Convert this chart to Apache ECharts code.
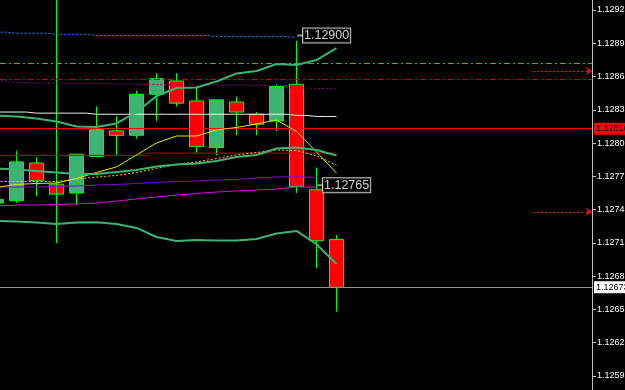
<!DOCTYPE html>
<html><head><meta charset="utf-8">
<script src="https://cdn.jsdelivr.net/npm/echarts@6/dist/echarts.min.js"></script>
<style>html,body{margin:0;padding:0;background:#000;}#c{width:625px;height:390px;}</style>
</head><body><div id="c"></div>
<script>
// ---- data (prices) ----
const candleIndex = [0,1,2,3,4,5,6,7,8,9,10,11,12,13,14,15,16,17];
const candleOpen  = [1.12749,1.12751,1.12785,1.12766,1.12758,1.12791,1.12814,1.12810,1.12847,1.12859,1.12841,1.12799,1.12840,1.12829,1.12823,1.12856,1.12761,1.12716];
const candleClose = [1.12752,1.12786,1.12769,1.12757,1.12793,1.12815,1.12810,1.12847,1.12861,1.12839,1.12800,1.12842,1.12831,1.12820,1.12854,1.12764,1.12715,1.12673];
const candleLow   = [1.12748,1.12749,1.12755,1.12756,1.12747,1.12790,1.12792,1.12807,1.12823,1.12836,1.12794,1.12792,1.12810,1.12810,1.12814,1.12758,1.12690,1.12651];
const candleHigh  = [1.12754,1.12796,1.12790,1.12767,1.12793,1.12836,1.12827,1.12850,1.12866,1.12866,1.12853,1.12842,1.12845,1.12831,1.12856,1.12895,1.12781,1.12720];

const bandUpper  = [1.128279,1.128270,1.128252,1.128225,1.128180,1.128175,1.128207,1.128310,1.128455,1.128527,1.128531,1.128585,1.128658,1.128680,1.128743,1.128734,1.128779,1.128887];
const bandMiddle = [1.127801,1.127792,1.127778,1.127765,1.127751,1.127751,1.127769,1.127787,1.127819,1.127837,1.127846,1.127869,1.127905,1.127923,1.127981,1.127990,1.127968,1.127918];
const bandLower  = [1.127328,1.127323,1.127314,1.127301,1.127314,1.127316,1.127301,1.127265,1.127183,1.127147,1.127156,1.127152,1.127152,1.127165,1.127215,1.127238,1.127118,1.126940];
const maYellow   = [1.127630,1.127657,1.127666,1.127670,1.127711,1.127765,1.127815,1.127923,1.128031,1.128094,1.128094,1.128148,1.128171,1.128202,1.128238,1.128135,1.127950,1.127760];
const maYellowDot= [1.127684,1.127684,1.127684,1.127684,1.127706,1.127724,1.127738,1.127765,1.127801,1.127837,1.127860,1.127891,1.127923,1.127945,1.127968,1.127963,1.127914,1.127832];
const maWhite    = [1.12831,1.12831,1.12830,1.12830,1.12830,1.12829,1.12829,1.12829,1.12829,1.12829,1.12829,1.12829,1.12829,1.12829,1.12829,1.12828,1.12827,1.12827];
const maDarkRed  = [1.12792,1.12792,1.12792,1.12792,1.12792,1.12792,1.12792,1.12792,1.12794,1.12794,1.12794,1.12794,1.12794,1.12794,1.12794,1.12794,1.12794,1.12794];
const maPurple   = [1.127634,1.127634,1.127634,1.127639,1.127643,1.127652,1.127657,1.127666,1.127675,1.127684,1.127688,1.127697,1.127702,1.127715,1.127724,1.127729,1.127720];
const maMagenta  = [1.127463,1.127472,1.127472,1.127476,1.127481,1.127490,1.127508,1.127526,1.127544,1.127562,1.127576,1.127589,1.127598,1.127607,1.127616,1.127634,1.127634];
const dotPurpleTop = [1.128590,1.128576,1.128572,1.128569,1.128569,1.128567,1.128563,1.128560,1.128558,1.128554,1.128551,1.128551,1.128551,1.128551,1.128549,1.128527,1.128522,1.128518];
const dotBlueTop = [1.12903,1.12902,1.12902,1.12901,1.12901,1.12900,1.12900,1.12900,1.12900,1.12900,1.12900,1.12899,1.12899,1.12899,1.12899,1.12898];

const levelGreenDashDot = 1.12875;
const levelRedDashDot   = 1.12861;
const levelBid          = 1.12816;
const levelCurrent      = 1.12673;
const arrowLevels       = [1.12868, 1.12741];
const arrowStartIndex   = 26.825;
const arrowEndIndex     = 29.775;
const verticalLineIndex = 3;
const verticalLineLow   = 1.12713;
const priceLabelIndex   = [15.175, 16.175];
const priceLabelValue   = [1.12900, 1.12765];
const priceLabelText    = ['1.12900', '1.12765'];
const tickLabels = ['1.12563','1.12593','1.12623','1.12653','1.12683','1.12713','1.12743','1.12773','1.12803','1.12833','1.12863','1.12893','1.12923','1.12953'];

// axis units: points above 1.12563
const axisBase = 1.12563;
const P = p => (p - axisBase) * 1e5;

const chart = echarts.init(document.getElementById('c'), null, {renderer: 'canvas'});

function lineS(vals, color, width, type, step, z) {
  return {type: 'line', data: vals.map((v, k) => [k, P(v)]), symbol: 'none', showSymbol: false,
    step: step || false, silent: true, animation: false, z: z || 5,
    lineStyle: {color: color, width: width, type: type || 'solid'}};
}
const dashDot = [6, 3, 2, 3];

const option = {
  backgroundColor: '#000000',
  animation: false,
  grid: {left: 0, right: 33, top: -23.2727, bottom: -19.2727, containLabel: false, outerBoundsMode: 'none'},
  xAxis: {type: 'value', min: 0.175, max: 29.775, show: false, splitLine: {show: false}},
  yAxis: {
    type: 'value', position: 'right', min: 0, max: 390, interval: 30, scale: false,
    axisLine: {show: true, lineStyle: {color: '#c0c0c0', width: 1}},
    axisTick: {show: true, length: 4, lineStyle: {color: '#c0c0c0'}},
    splitLine: {show: false},
    axisLabel: {color: '#ffffff', fontSize: 9, fontFamily: 'Liberation Sans', margin: 5,
      formatter: v => tickLabels[Math.round(v / 30)] || ''}
  },
  series: [
    // horizontal level lines
    {type: 'line', data: [], silent: true, z: 1,
      markLine: {silent: true, symbol: 'none', animation: false,
        data: [
          {yAxis: P(levelGreenDashDot), lineStyle: {color: '#3cb44b', width: 1, type: dashDot}, label: {show: false}},
          {yAxis: P(levelRedDashDot), lineStyle: {color: '#c80000', width: 1, type: dashDot}, label: {show: false}},
          {yAxis: P(levelBid), lineStyle: {color: '#ff0000', width: 1, type: 'solid'},
            label: {show: true, position: 'end', distance: 2, formatter: levelBid.toFixed(5), color: '#000',
              backgroundColor: '#ff0000', fontSize: 9, fontFamily: 'Liberation Sans', padding: [2, 4, 1, 2]}},
          {yAxis: P(levelCurrent), lineStyle: {color: '#909090', width: 1, type: 'solid'},
            label: {show: true, position: 'end', distance: 2, formatter: levelCurrent.toFixed(5), color: '#000',
              backgroundColor: '#ffffff', fontSize: 9, fontFamily: 'Liberation Sans', padding: [2, 4, 1, 2]}}
        ]}},
    // short dotted arrow lines on the right
    {type: 'line', data: [], silent: true, z: 1,
      markLine: {silent: true, symbol: ['none', 'arrow'], symbolSize: 6, animation: false, label: {show: false},
        lineStyle: {color: '#ff0000', width: 1, type: [2, 2]},
        data: arrowLevels.map(v => [{coord: [arrowStartIndex, P(v)]}, {coord: [arrowEndIndex, P(v)]}])}},
    // candles
    {type: 'candlestick', silent: true, animation: false, z: 3,
      data: candleIndex.map((x, k) => [x, P(candleOpen[k]), P(candleClose[k]), P(candleLow[k]), P(candleHigh[k])]),
      encode: {x: 0, y: [1, 2, 3, 4]},
      barWidth: 15,
      itemStyle: {color: '#3cb371', color0: '#ff0000', borderColor: '#00ff00', borderColor0: '#00ff00', borderWidth: 1}},
    // vertical line
    {type: 'line', data: [[verticalLineIndex, P(verticalLineLow)], [verticalLineIndex, 390]], symbol: 'none',
      silent: true, animation: false, z: 4, lineStyle: {color: '#00ff00', width: 1}},
    lineS(dotBlueTop, '#1e90ff', 1, [2, 2], 'middle'),
    lineS(dotPurpleTop, '#80107a', 1, [2, 2], 'middle'),
    lineS(maWhite, '#f0f0f0', 1, 'solid', 'middle'),
    lineS(maDarkRed, '#c00000', 1, 'solid', 'middle'),
    lineS(maPurple, '#8c00c8', 1, 'solid'),
    lineS(maMagenta, '#e000e0', 1, 'solid'),
    lineS(maYellowDot, '#ffd700', 1, [2, 2]),
    lineS(maYellow, '#e8e800', 1, 'solid'),
    lineS(bandUpper, '#3cb371', 2, 'solid'),
    lineS(bandMiddle, '#3cb371', 2, 'solid'),
    lineS(bandLower, '#3cb371', 2, 'solid'),
    // price labels
    {type: 'scatter', silent: true, animation: false, z: 10,
      data: priceLabelIndex.map((x, k) => [x, P(priceLabelValue[k])]),
      symbol: 'rect', symbolSize: [6, 2], itemStyle: {color: '#b0b0b0'},
      label: {show: true, position: 'right', distance: 0, formatter: p => priceLabelText[p.dataIndex],
        color: '#ffffff', backgroundColor: '#000000', borderColor: '#f0f0f0', borderWidth: 1,
        fontSize: 12.5, fontFamily: 'Liberation Sans', padding: [1, 1, 0, 1]}}
  ]
};
chart.setOption(option);
</script>
</body></html>
